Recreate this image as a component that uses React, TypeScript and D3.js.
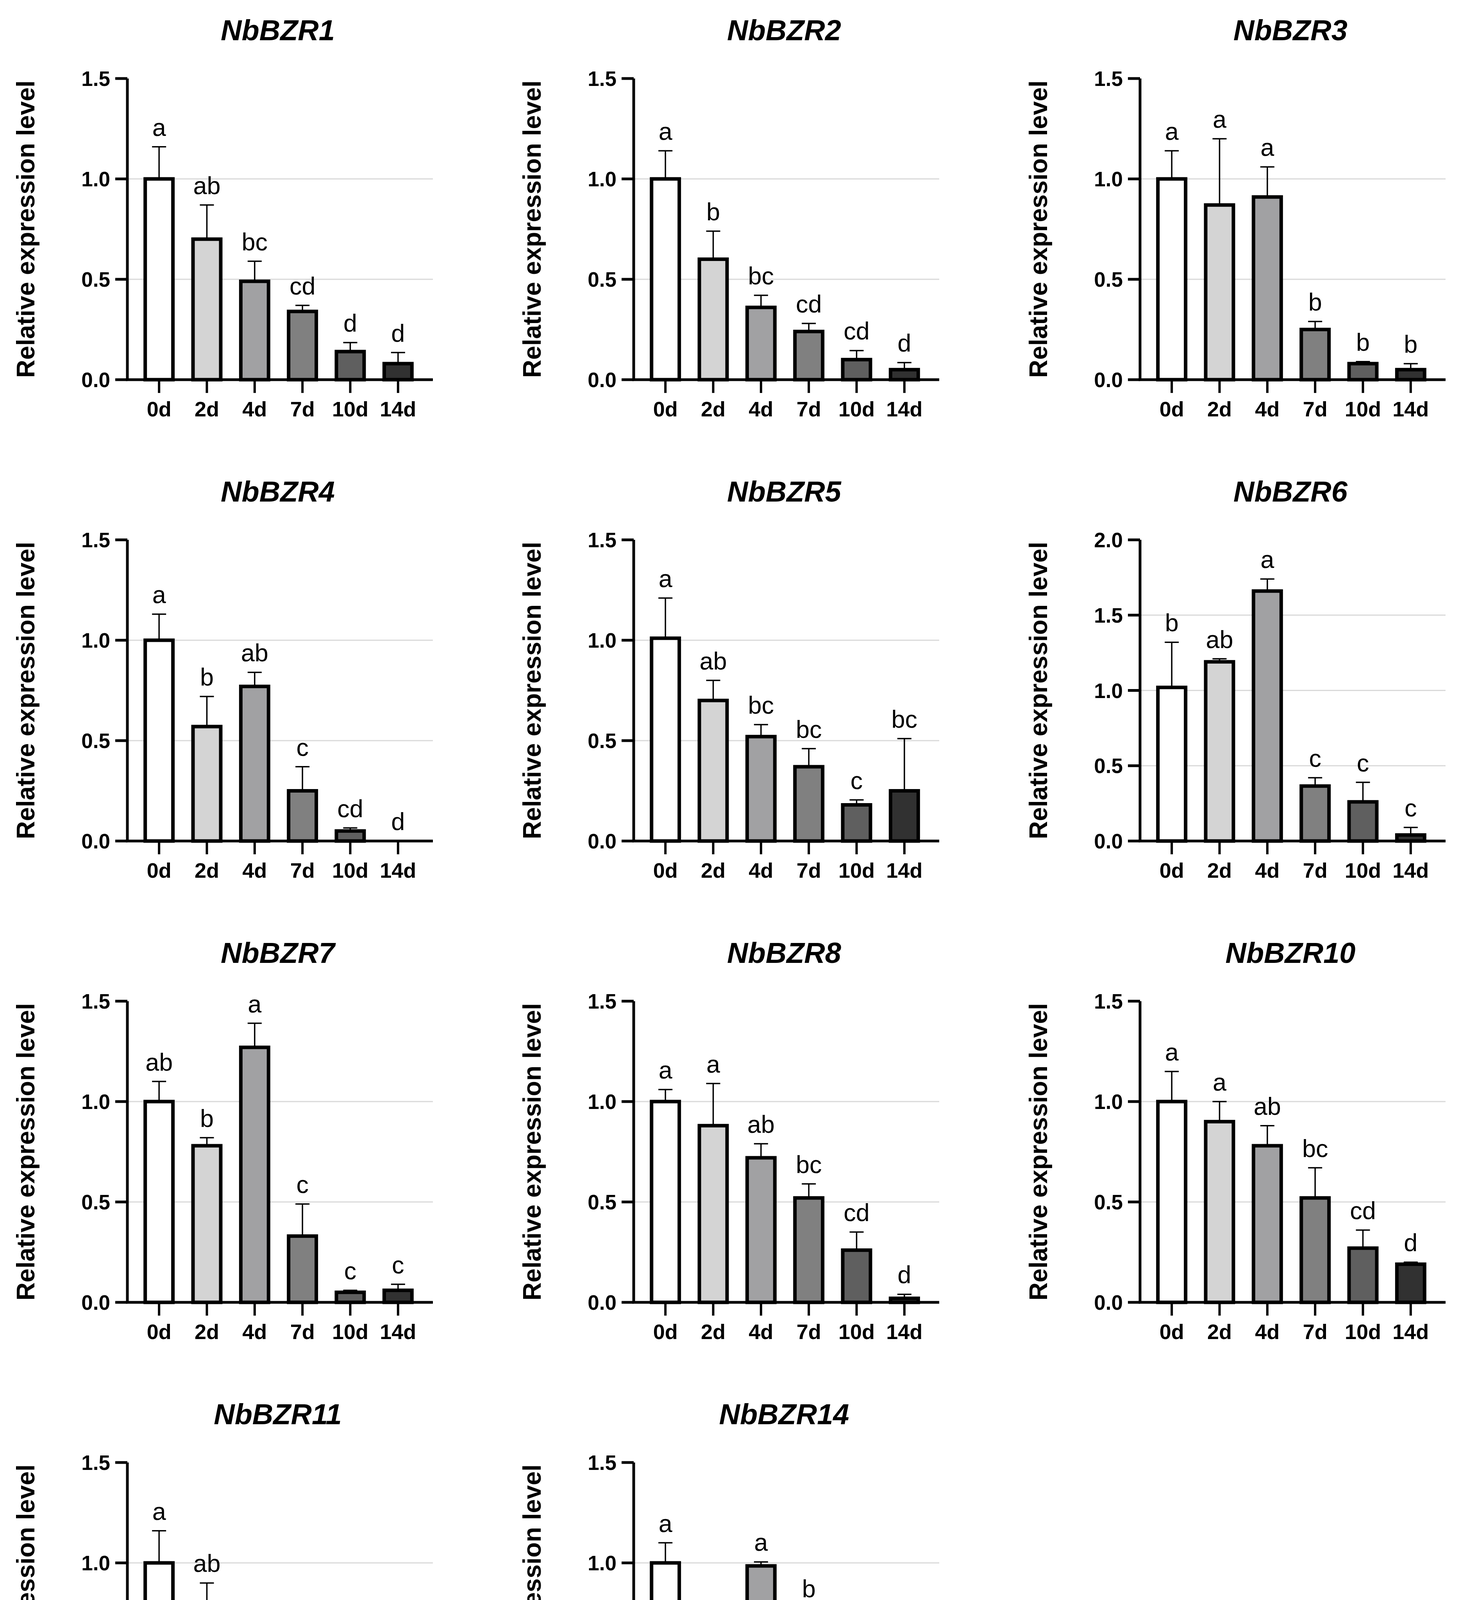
import React, { useLayoutEffect } from 'react';
import * as d3 from 'd3';

// time points after treatment
const days = ['0d', '2d', '4d', '7d', '10d', '14d'];

const genes = [
    'NbBZR1', 'NbBZR2', 'NbBZR3',
    'NbBZR4', 'NbBZR5', 'NbBZR6',
    'NbBZR7', 'NbBZR8', 'NbBZR10',
    'NbBZR11', 'NbBZR14',
];

const yMaxes = [1.5, 1.5, 1.5, 1.5, 1.5, 2.0, 1.5, 1.5, 1.5, 1.5, 1.5];

// mean relative expression per gene (one row per gene, one value per day)
const means = [
    [1.0, 0.70, 0.49, 0.34, 0.14, 0.08],
    [1.0, 0.60, 0.36, 0.24, 0.10, 0.05],
    [1.0, 0.87, 0.91, 0.25, 0.08, 0.05],
    [1.0, 0.57, 0.77, 0.25, 0.05, 0.0],
    [1.01, 0.70, 0.52, 0.37, 0.18, 0.25],
    [1.02, 1.19, 1.66, 0.365, 0.26, 0.04],
    [1.0, 0.78, 1.27, 0.33, 0.05, 0.06],
    [1.0, 0.88, 0.72, 0.52, 0.26, 0.02],
    [1.0, 0.90, 0.78, 0.52, 0.27, 0.19],
    [1.0, 0.72, 0.54, 0.31, 0.19, 0.035],
    [1.0, 0.515, 0.985, 0.725, 0.10, 0.01],
];

// upper error (SD)
const errs = [
    [0.16, 0.17, 0.10, 0.03, 0.045, 0.055],
    [0.14, 0.14, 0.06, 0.04, 0.045, 0.035],
    [0.14, 0.33, 0.15, 0.04, 0.01, 0.03],
    [0.13, 0.15, 0.07, 0.12, 0.015, 0.0],
    [0.20, 0.10, 0.06, 0.09, 0.025, 0.26],
    [0.30, 0.02, 0.08, 0.055, 0.13, 0.05],
    [0.10, 0.04, 0.12, 0.16, 0.01, 0.03],
    [0.06, 0.21, 0.07, 0.07, 0.09, 0.02],
    [0.15, 0.10, 0.10, 0.15, 0.09, 0.01],
    [0.16, 0.18, 0.035, 0.09, 0.07, 0.035],
    [0.10, 0.035, 0.02, 0.05, 0.025, 0.012],
];

// significance letters
const letters = [
    ['a', 'ab', 'bc', 'cd', 'd', 'd'],
    ['a', 'b', 'bc', 'cd', 'cd', 'd'],
    ['a', 'a', 'a', 'b', 'b', 'b'],
    ['a', 'b', 'ab', 'c', 'cd', 'd'],
    ['a', 'ab', 'bc', 'bc', 'c', 'bc'],
    ['b', 'ab', 'a', 'c', 'c', 'c'],
    ['ab', 'b', 'a', 'c', 'c', 'c'],
    ['a', 'a', 'ab', 'bc', 'cd', 'd'],
    ['a', 'a', 'ab', 'bc', 'cd', 'd'],
    ['a', 'ab', 'bc', 'cd', 'd', 'd'],
    ['a', 'c', 'a', 'b', 'd', 'd'],
];

const barColors = ['#ffffff', '#d4d4d4', '#a1a1a3', '#808080', '#5f5f5f', '#313131'];

const W = 3760;
const H = 4656;
const PLOT_W = 782;
const PLOT_H = 771;
const COL_X = [326, 1622, 2918];
const FIRST_BASE = 972;
const ROW_STEP = 1181;
const FONT = 'Liberation Sans, Arial, Helvetica, sans-serif';

const Panel: React.FC<{ i: number }> = ({ i }) => {
    const col = i % 3;
    const row = Math.floor(i / 3);
    const x0 = COL_X[col];
    const y0 = FIRST_BASE + row * ROW_STEP - PLOT_H;

    const x = d3
        .scaleBand<string>()
        .domain(days)
        .range([20, 754])
        .paddingInner(0.42)
        .paddingOuter(0.21);
    const y = d3.scaleLinear().domain([0, yMaxes[i]]).range([PLOT_H, 0]);
    const ticks = y.ticks(4);
    const fmt = d3.format('.1f');
    const bw = x.bandwidth();

    return (
        <g transform={`translate(${x0},${y0})`}>
            <text
                x={PLOT_W / 2 - 6}
                y={-98}
                textAnchor="middle"
                fontSize={74}
                fontWeight="bold"
                fontStyle="italic"
            >
                {genes[i]}
            </text>
            <text
                transform={`translate(-238,${PLOT_H / 2}) rotate(-90)`}
                textAnchor="middle"
                fontSize={64}
                fontWeight="bold"
            >
                Relative expression level
            </text>

            {/* grid */}
            {ticks
                .filter((t) => t > 0 && t < yMaxes[i])
                .map((t) => (
                    <line
                        key={'g' + t}
                        x1={0}
                        x2={PLOT_W}
                        y1={y(t)}
                        y2={y(t)}
                        stroke="#d9d9d9"
                        strokeWidth={3}
                    />
                ))}

            {/* bars, error bars, letters */}
            {days.map((d, j) => {
                const m = means[i][j];
                const top = y(m);
                const cx = (x(d) ?? 0) + bw / 2;
                const et = y(m + errs[i][j]);
                return (
                    <g key={d}>
                        {m > 0 && (
                            <rect
                                x={x(d)}
                                y={top}
                                width={bw}
                                height={PLOT_H - top}
                                fill={barColors[j]}
                                stroke="#000"
                                strokeWidth={9}
                            />
                        )}
                        {errs[i][j] > 0 && (
                            <g stroke="#000" strokeWidth={3.5}>
                                <line x1={cx} x2={cx} y1={top} y2={et} />
                                <line x1={cx - 18} x2={cx + 18} y1={et} y2={et} />
                            </g>
                        )}
                        <text
                            x={cx}
                            y={et - 28}
                            textAnchor="middle"
                            fontSize={63}
                        >
                            {letters[i][j]}
                        </text>
                    </g>
                );
            })}

            {/* y axis */}
            <line x1={0} x2={0} y1={0} y2={PLOT_H} stroke="#000" strokeWidth={7} />
            {ticks.map((t) => (
                <g key={'t' + t} transform={`translate(0,${y(t)})`}>
                    <line x1={-31} x2={0} stroke="#000" strokeWidth={7} />
                    <text
                        x={-44}
                        dy="0.36em"
                        textAnchor="end"
                        fontSize={53}
                        fontWeight="bold"
                    >
                        {fmt(t)}
                    </text>
                </g>
            ))}

            {/* x axis */}
            <line
                x1={-3.5}
                x2={PLOT_W}
                y1={PLOT_H}
                y2={PLOT_H}
                stroke="#000"
                strokeWidth={7}
            />
            {days.map((d) => {
                const cx = (x(d) ?? 0) + bw / 2;
                return (
                    <g key={'x' + d} transform={`translate(${cx},${PLOT_H})`}>
                        <line y1={0} y2={34} stroke="#000" strokeWidth={6} />
                        <text
                            y={94}
                            textAnchor="middle"
                            fontSize={54}
                            fontWeight="bold"
                        >
                            {d}
                        </text>
                    </g>
                );
            })}
        </g>
    );
};

const App: React.FC = () => {
    useLayoutEffect(() => {
        document.body.style.margin = '0';
    }, []);

    return (
        <svg
            width={W}
            height={H}
            viewBox={`0 0 ${W} ${H}`}
            style={{ display: 'block', background: '#fff' }}
            fontFamily={FONT}
        >
            <rect width={W} height={H} fill="#fff" />
            {genes.map((g, i) => (
                <Panel key={g} i={i} />
            ))}
        </svg>
    );
};

export default App;
